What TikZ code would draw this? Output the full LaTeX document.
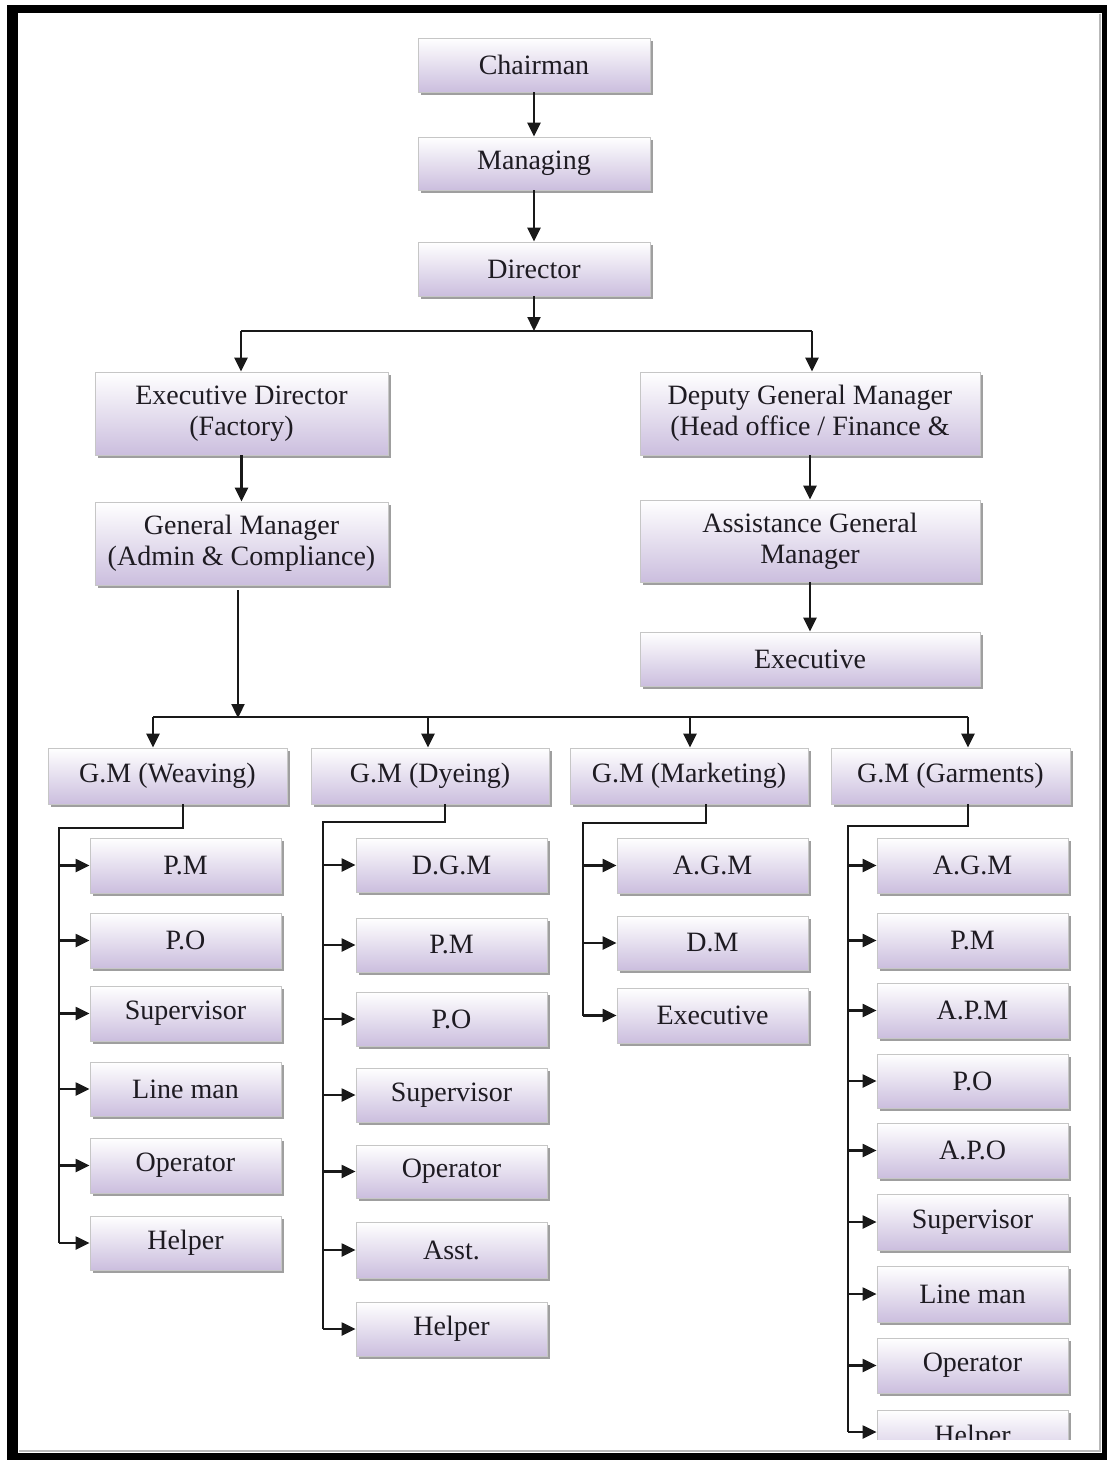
\documentclass[tikz,border=0pt]{standalone}
\usepackage{fontspec}
\setmainfont{Liberation Serif}
\usetikzlibrary{arrows.meta,shadows}
\definecolor{lav}{RGB}{203,190,222}
\definecolor{txt}{RGB}{30,27,34}
\newcommand\obox[6]{\node[box,minimum width={#4-#2},minimum height={#5-#3}] (#1) at ({(#2+#4)/2},{(#3+#5)/2}) {#6};}
\begin{document}
\begin{tikzpicture}[x=1pt,y=-1pt,
  box/.style={draw=gray!45, line width=0.8pt, top color=white, bottom color=lav,
    drop shadow={shadow xshift=2.5pt,shadow yshift=-3pt,fill=gray!75,opacity=1},
    inner sep=0pt, align=center, font=\fontsize{28}{31}\selectfont, text=txt},
  conn/.style={line width=2.3pt, draw=black!90},
  arr/.style={conn, -{Triangle[length=14pt,width=13pt]}}]
\useasboundingbox (0,0) rectangle (1107,1460);
% frame
\fill[white] (0,0) rectangle (1107,1460);
\fill[black] (7,5) rectangle (1107,1460);
\fill[white] (18,13) rectangle (1102,1453);
\draw[gray!55, line width=2pt] (1100,14) -- (1100,1451) -- (19,1451);
% top chain
\obox{ch}{418}{38}{650}{92}{Chairman}
\obox{mg}{418}{137}{650}{190}{Managing}
\obox{dr}{418}{242}{650}{296}{Director}
\draw[arr] (ch) -- (mg);
\draw[arr] (mg) -- (dr);
% second level
\obox{ed}{95}{372}{388}{455}{Executive Director\\(Factory)}
\obox{gma}{95}{502}{388}{585}{General Manager\\(Admin \& Compliance)}
\obox{dgm}{640}{372}{980}{455}{Deputy General Manager\\(Head office / Finance \&}
\obox{agm}{640}{500}{980}{582}{Assistance General\\Manager}
\obox{exe}{640}{632}{980}{686}{Executive}
\coordinate (j1) at (534,331);
\coordinate (j1l) at (241,331);
\coordinate (j1r) at (812,331);
\draw[arr] (dr.south) -- (j1);
\draw[conn] (j1l) -- (j1r);
\draw[arr] (j1l) -- (j1l |- ed.north);
\draw[arr] (j1r) -- (j1r |- dgm.north);
\draw[arr] (ed) -- (gma);
\draw[arr] (dgm) -- (agm);
\draw[arr] (agm) -- (exe);
% GM row
\obox{wea}{48}{748}{287}{804}{G.M (Weaving)}
\obox{dye}{311}{748}{549}{804}{G.M (Dyeing)}
\obox{mkt}{570}{748}{808}{804}{G.M (Marketing)}
\obox{gar}{831}{748}{1070}{804}{G.M (Garments)}
\coordinate (j2) at (238,717);
\coordinate (k1) at (153,717);
\coordinate (k2) at (428,717);
\coordinate (k3) at (690,717);
\coordinate (k4) at (968,717);
\draw[arr] (j2 |- gma.south) ++(0,5) -- ([yshift=-1pt]j2);
\draw[conn] (k1) -- (k4);
\draw[arr] (k1) -- (k1 |- wea.north);
\draw[arr] (k2) -- (k2 |- dye.north);
\draw[arr] (k3) -- (k3 |- mkt.north);
\draw[arr] (k4) -- (k4 |- gar.north);
% Weaving
\obox{w1}{90}{838}{281}{893}{P.M}
\obox{w2}{90}{913}{281}{968}{P.O}
\obox{w3}{90}{986}{281}{1041}{Supervisor}
\obox{w4}{90}{1062}{281}{1116}{Line man}
\obox{w5}{90}{1138}{281}{1193}{Operator}
\obox{w6}{90}{1216}{281}{1270}{Helper}
\coordinate (wx) at (183,828);
\coordinate (wv) at (59,828);
\draw[conn] (wx |- wea.south) -- (wx) -- (wv) -- (wv |- w6.west);
\foreach \n in {w1,w2,w3,w4,w5,w6} \draw[arr] (wv |- \n.west) -- (\n.west);
% Dyeing
\obox{d1}{356}{838}{547}{892}{D.G.M}
\obox{d2}{356}{918}{547}{972}{P.M}
\obox{d3}{356}{992}{547}{1046}{P.O}
\obox{d4}{356}{1068}{547}{1122}{Supervisor}
\obox{d5}{356}{1145}{547}{1198}{Operator}
\obox{d6}{356}{1222}{547}{1278}{Asst.}
\obox{d7}{356}{1302}{547}{1356}{Helper}
\coordinate (dx) at (445,822);
\coordinate (dv) at (323,822);
\draw[conn] (dx |- dye.south) -- (dx) -- (dv) -- (dv |- d7.west);
\foreach \n in {d1,d2,d3,d4,d5,d6,d7} \draw[arr] (dv |- \n.west) -- (\n.west);
% Marketing
\obox{m1}{617}{838}{808}{893}{A.G.M}
\obox{m2}{617}{916}{808}{970}{D.M}
\obox{m3}{617}{988}{808}{1043}{Executive}
\coordinate (mx) at (706,823);
\coordinate (mv) at (583,823);
\draw[conn] (mx |- mkt.south) -- (mx) -- (mv) -- (mv |- m3.west);
\foreach \n in {m1,m2,m3} \draw[arr] (mv |- \n.west) -- (\n.west);
% Garments
\obox{g1}{877}{838}{1068}{893}{A.G.M}
\obox{g2}{877}{913}{1068}{968}{P.M}
\obox{g3}{877}{983}{1068}{1038}{A.P.M}
\obox{g4}{877}{1054}{1068}{1108}{P.O}
\obox{g5}{877}{1123}{1068}{1178}{A.P.O}
\obox{g6}{877}{1194}{1068}{1250}{Supervisor}
\obox{g7}{877}{1266}{1068}{1322}{Line man}
\obox{g8}{877}{1338}{1068}{1393}{Operator}
\begin{scope}
\clip (800,1400) rectangle (1090,1439);
\obox{g9}{877}{1410}{1068}{1466}{Helper}
\end{scope}
\coordinate (gx) at (968,826);
\coordinate (gv) at (848,826);
\coordinate (gh) at (848,1432);
\draw[conn] (gx |- gar.south) -- (gx) -- (gv) -- (gh);
\foreach \n in {g1,g2,g3,g4,g5,g6,g7,g8} \draw[arr] (gv |- \n.west) -- (\n.west);
\draw[arr] (gh) -- (gh -| g9.west);
\end{tikzpicture}
\end{document}
